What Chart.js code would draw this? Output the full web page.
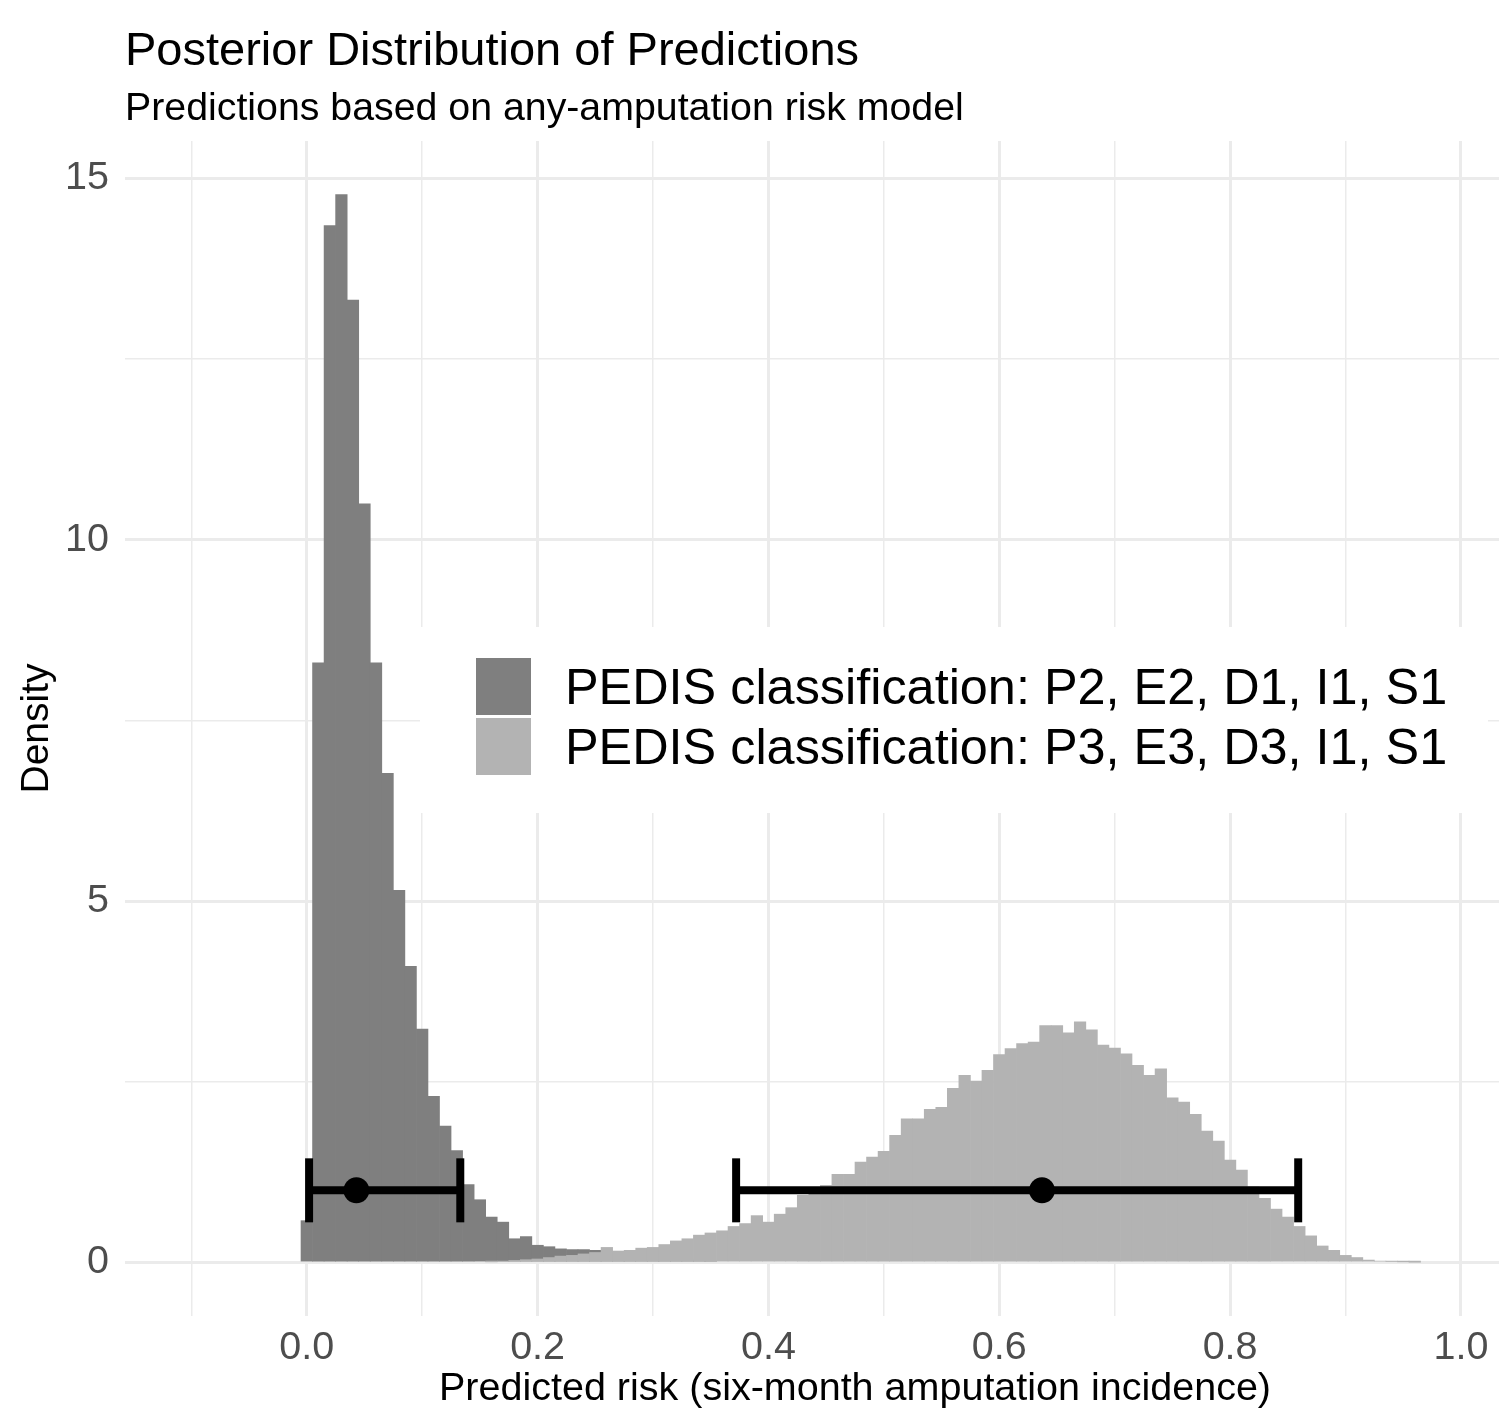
<!DOCTYPE html>
<html>
<head>
<meta charset="utf-8">
<title>Posterior Distribution of Predictions</title>
<script src="https://cdn.jsdelivr.net/npm/chart.js@4.4.1/dist/chart.umd.min.js"></script>
<style>
  html, body { margin: 0; padding: 0; background: #fff; overflow: hidden; }
  canvas { display: block; }
</style>
</head>
<body>
<canvas id="chart" width="1600" height="1413"></canvas>
<script>
const FONT = '"Liberation Sans", Arial, Helvetica, sans-serif';
const DARK = "#7f7f7f";
const LIGHT = "#b3b3b3";
const GRID = "#ebebeb";

const titleText = "Posterior Distribution of Predictions";
const subtitleText = "Predictions based on any-amputation risk model";
const xTitle = "Predicted risk (six-month amputation incidence)";
const yTitle = "Density";

const groupLabels = [
  "PEDIS classification: P2, E2, D1, I1, S1",
  "PEDIS classification: P3, E3, D3, I1, S1"
];

// histogram bin centres (width 0.01)
const bins = [
  0.00, 0.01, 0.02, 0.03, 0.04, 0.05, 0.06, 0.07, 0.08, 0.09,
  0.10, 0.11, 0.12, 0.13, 0.14, 0.15, 0.16, 0.17, 0.18, 0.19,
  0.20, 0.21, 0.22, 0.23, 0.24, 0.25, 0.26, 0.27, 0.28, 0.29,
  0.30, 0.31, 0.32, 0.33, 0.34, 0.35, 0.36, 0.37, 0.38, 0.39,
  0.40, 0.41, 0.42, 0.43, 0.44, 0.45, 0.46, 0.47, 0.48, 0.49,
  0.50, 0.51, 0.52, 0.53, 0.54, 0.55, 0.56, 0.57, 0.58, 0.59,
  0.60, 0.61, 0.62, 0.63, 0.64, 0.65, 0.66, 0.67, 0.68, 0.69,
  0.70, 0.71, 0.72, 0.73, 0.74, 0.75, 0.76, 0.77, 0.78, 0.79,
  0.80, 0.81, 0.82, 0.83, 0.84, 0.85, 0.86, 0.87, 0.88, 0.89,
  0.90, 0.91, 0.92, 0.93, 0.94, 0.95, 0.96
];

// density, P2 E2 D1 I1 S1
const densityLow = [
  0.58, 8.30, 14.35, 14.78, 13.32, 10.50, 8.30, 6.77, 5.15, 4.10,
  3.23, 2.30, 1.89, 1.55, 1.08, 0.87, 0.63, 0.56, 0.33, 0.36,
  0.24, 0.22, 0.19, 0.18, 0.18, 0.17, 0.15, 0.13, 0.11, 0.09,
  0.07, 0.06, 0.05, 0.04, 0.03, 0.02, null, null, null, null,
  null, null, null, null, null, null, null, null, null, null,
  null, null, null, null, null, null, null, null, null, null,
  null, null, null, null, null, null, null, null, null, null,
  null, null, null, null, null, null, null, null, null, null,
  null, null, null, null, null, null, null, null, null, null,
  null, null, null, null, null, null, null
];

// density, P3 E3 D3 I1 S1
const densityHigh = [
  null, null, null, null, null, null, null, null, null, null,
  null, null, null, null, null, null, 0.01, 0.02, 0.03, 0.04,
  0.05, 0.07, 0.09, 0.10, 0.12, 0.14, 0.21, 0.16, 0.17, 0.20,
  0.21, 0.25, 0.30, 0.33, 0.38, 0.41, 0.44, 0.50, 0.54, 0.65,
  0.56, 0.67, 0.76, 0.93, 1.00, 1.07, 1.22, 1.22, 1.39, 1.46,
  1.54, 1.76, 1.99, 1.99, 2.12, 2.15, 2.41, 2.59, 2.51, 2.66,
  2.88, 2.96, 3.03, 3.05, 3.28, 3.28, 3.18, 3.33, 3.22, 3.01,
  2.97, 2.89, 2.73, 2.59, 2.68, 2.28, 2.22, 2.05, 1.82, 1.68,
  1.42, 1.28, 1.05, 0.89, 0.74, 0.63, 0.50, 0.37, 0.23, 0.17,
  0.10, 0.07, 0.035, 0.02, 0.015, 0.01, 0.005
];

// interval (low, point, high) per group, drawn at density 1
const intervalLow = [0.002, 0.372];
const intervalMid = [0.043, 0.637];
const intervalHigh = [0.133, 0.859];
const intervalY = 1;

const xLabelTicks = [0, 0.2, 0.4, 0.6, 0.8, 1.0];
const yLabelTicks = [0, 5, 10, 15];

function toPoints(values) {
  const pts = [];
  values.forEach((v, i) => {
    if (v !== null) pts.push({ x: bins[i], y: v });
  });
  return pts;
}

function isMajorX(v) {
  return xLabelTicks.some(t => Math.abs(t - v) < 1e-6);
}
function isMajorY(v) {
  return yLabelTicks.some(t => Math.abs(t - v) < 1e-6);
}

function intervalDataset(i) {
  return {
    type: "line",
    label: "interval " + (i + 1),
    data: [
      { x: intervalLow[i], y: intervalY },
      { x: intervalMid[i], y: intervalY },
      { x: intervalHigh[i], y: intervalY }
    ],
    borderColor: "#000",
    borderWidth: 8,
    tension: 0,
    pointStyle: ["line", "circle", "line"],
    pointRadius: [32, 13, 32],
    pointRotation: [90, 0, 90],
    pointBackgroundColor: "#000",
    pointBorderColor: "#000",
    pointBorderWidth: [8, 0, 8],
    clip: false,
    order: 0
  };
}

const ggDecor = {
  id: "ggDecor",
  beforeDraw(chart) {
    const ctx = chart.ctx;
    ctx.save();
    ctx.fillStyle = "#fff";
    ctx.fillRect(0, 0, chart.width, chart.height);
    ctx.restore();
  },
  afterDraw(chart) {
    const ctx = chart.ctx;
    const area = chart.chartArea;
    ctx.save();
    ctx.textAlign = "left";
    ctx.textBaseline = "alphabetic";
    ctx.fillStyle = "#000";
    ctx.font = "47px " + FONT;
    ctx.fillText(titleText, area.left, 65);
    ctx.font = "39.3px " + FONT;
    ctx.fillText(subtitleText, area.left, 120);

    // legend inside the panel
    const lx = area.left + 295;
    const ly = area.top + 486;
    ctx.fillStyle = "#fff";
    ctx.fillRect(lx, ly, 1068, 186);
    const keyColors = [DARK, LIGHT];
    ctx.font = "50.4px " + FONT;
    groupLabels.forEach((label, i) => {
      const ky = ly + 31 + i * 60;
      ctx.fillStyle = keyColors[i];
      ctx.fillRect(lx + 56, ky, 55, 57);
      ctx.fillStyle = "#000";
      ctx.fillText(label, lx + 145, ky + 46);
    });
    ctx.restore();
  }
};

new Chart(document.getElementById("chart"), {
  type: "bar",
  data: {
    datasets: [
      intervalDataset(0),
      intervalDataset(1),
      {
        label: groupLabels[1],
        data: toPoints(densityHigh),
        backgroundColor: LIGHT,
        borderWidth: 0,
        grouped: false,
        barPercentage: 1,
        categoryPercentage: 1,
        order: 1
      },
      {
        label: groupLabels[0],
        data: toPoints(densityLow),
        backgroundColor: DARK,
        borderWidth: 0,
        grouped: false,
        barPercentage: 1,
        categoryPercentage: 1,
        order: 2
      }
    ]
  },
  options: {
    responsive: false,
    animation: false,
    events: [],
    layout: { autoPadding: false, padding: { top: 141, right: 15, bottom: 0, left: 0 } },
    plugins: {
      legend: { display: false },
      tooltip: { enabled: false },
      title: { display: false }
    },
    scales: {
      x: {
        type: "linear",
        min: -0.1575,
        max: 1.1075,
        offset: false,
        border: { display: false },
        grid: {
          drawTicks: false,
          offset: false,
          color: GRID,
          lineWidth: c => isMajorX(c.tick.value) ? 3 : 1.5
        },
        ticks: {
          stepSize: 0.1,
          includeBounds: false,
          autoSkip: false,
          maxRotation: 0,
          padding: 8,
          color: "#4d4d4d",
          font: { family: FONT, size: 39.5, lineHeight: 1.2 },
          callback: v => isMajorX(v) ? v.toFixed(1) : ""
        },
        title: {
          display: true,
          text: xTitle,
          color: "#000",
          padding: { top: 0, bottom: 0 },
          font: { family: FONT, size: 39.5, lineHeight: 1.2 }
        },
        afterFit: scale => { scale.height = 97; }
      },
      y: {
        min: -0.739,
        max: 15.52,
        border: { display: false },
        grid: {
          drawTicks: false,
          color: GRID,
          lineWidth: c => isMajorY(c.tick.value) ? 3 : 1.5
        },
        ticks: {
          stepSize: 2.5,
          includeBounds: false,
          padding: 16,
          color: "#4d4d4d",
          font: { family: FONT, size: 39.5, lineHeight: 1.2 },
          callback: v => isMajorY(v) ? String(v) : ""
        },
        title: {
          display: true,
          text: yTitle,
          color: "#000",
          padding: { top: 14, bottom: 0 },
          font: { family: FONT, size: 39, lineHeight: 1.2 }
        },
        afterFit: scale => { scale.width = 125; }
      }
    }
  },
  plugins: [ggDecor]
});
</script>
</body>
</html>
